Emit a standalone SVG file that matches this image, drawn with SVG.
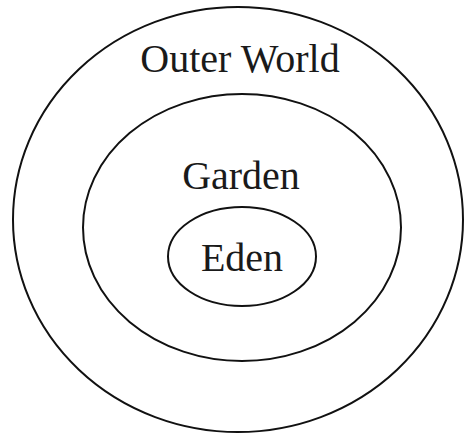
<svg xmlns="http://www.w3.org/2000/svg" width="466" height="434" viewBox="0 0 466 434">
<style>
.ring{fill:none;stroke:#111;stroke-width:2}
.lbl{font-family:"Liberation Serif","Times New Roman",serif;font-size:40px;fill:#1a1a1a;text-anchor:middle}
</style>
<rect width="466" height="434" fill="#fff"/>
<g id="outer-world">
<ellipse class="ring" cx="238" cy="219.5" rx="225" ry="212.5"/>
<text class="lbl" x="240" y="72">Outer World</text>
</g>
<g id="garden">
<ellipse class="ring" cx="242" cy="227.5" rx="159" ry="133.5"/>
<text class="lbl" x="241" y="189">Garden</text>
</g>
<g id="eden">
<ellipse class="ring" cx="242" cy="256.5" rx="74" ry="49.5"/>
<text class="lbl" x="242" y="271">Eden</text>
</g>
<g id="connectors"/>
</svg>
